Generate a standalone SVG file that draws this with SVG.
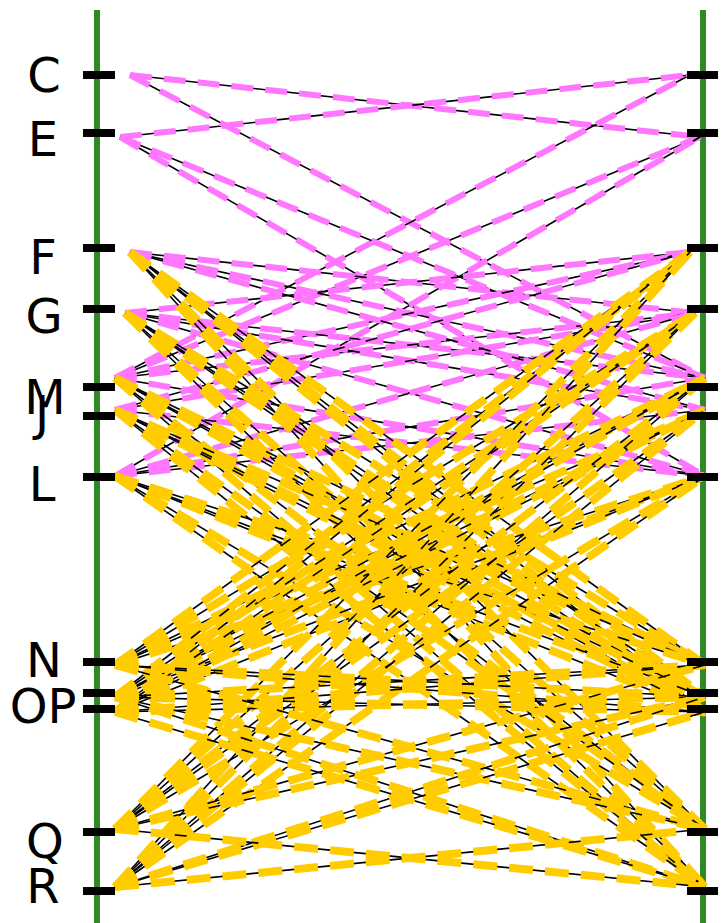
<svg xmlns="http://www.w3.org/2000/svg" width="723" height="923" viewBox="0 0 723 923">
<style>
.ax{stroke:#2e8a22;stroke-width:6;fill:none}
.tk{fill:#000}
.lb{font-family:"DejaVu Sans","Liberation Sans",sans-serif;font-size:48px;fill:#000;text-anchor:middle}
.k{stroke:#000;stroke-width:1.6;fill:none}
.p{stroke:#ff77ff;stroke-width:6;stroke-dasharray:22 12;fill:none}
.y{stroke:#ffcc00;stroke-width:8;stroke-dasharray:24 12;fill:none}
</style>
<rect width="723" height="923" fill="#fff"/>
<g id="axes">
<line class="ax" x1="97" y1="10" x2="97" y2="923"/>
<line class="ax" x1="703" y1="10" x2="703" y2="923"/>
</g>
<g id="connectors">
<line class="k" x1="130" y1="75" x2="700" y2="137"/><line class="p" x1="130" y1="75" x2="700" y2="137"/>
<line class="k" x1="120" y1="137" x2="690" y2="75"/><line class="p" x1="120" y1="137" x2="690" y2="75"/>
<line class="k" x1="130" y1="75" x2="705" y2="378"/><line class="p" x1="130" y1="75" x2="705" y2="378"/>
<line class="k" x1="115" y1="378" x2="690" y2="75"/><line class="p" x1="115" y1="378" x2="690" y2="75"/>
<line class="k" x1="120" y1="137" x2="705" y2="378"/><line class="p" x1="120" y1="137" x2="705" y2="378"/>
<line class="k" x1="115" y1="378" x2="700" y2="137"/><line class="p" x1="115" y1="378" x2="700" y2="137"/>
<line class="k" x1="120" y1="137" x2="705" y2="476"/><line class="p" x1="120" y1="137" x2="705" y2="476"/>
<line class="k" x1="115" y1="476" x2="700" y2="137"/><line class="p" x1="115" y1="476" x2="700" y2="137"/>
<line class="k" x1="130" y1="252" x2="695" y2="313"/><line class="p" x1="130" y1="252" x2="695" y2="313"/>
<line class="k" x1="125" y1="313" x2="690" y2="252"/><line class="p" x1="125" y1="313" x2="690" y2="252"/>
<line class="k" x1="130" y1="252" x2="705" y2="378"/><line class="p" x1="130" y1="252" x2="705" y2="378"/>
<line class="k" x1="115" y1="378" x2="690" y2="252"/><line class="p" x1="115" y1="378" x2="690" y2="252"/>
<line class="k" x1="125" y1="313" x2="705" y2="378"/><line class="p" x1="125" y1="313" x2="705" y2="378"/>
<line class="k" x1="115" y1="378" x2="695" y2="313"/><line class="p" x1="115" y1="378" x2="695" y2="313"/>
<line class="k" x1="125" y1="313" x2="705" y2="410"/><line class="p" x1="125" y1="313" x2="705" y2="410"/>
<line class="k" x1="115" y1="410" x2="695" y2="313"/><line class="p" x1="115" y1="410" x2="695" y2="313"/>
<line class="k" x1="125" y1="313" x2="705" y2="476"/><line class="p" x1="125" y1="313" x2="705" y2="476"/>
<line class="k" x1="115" y1="476" x2="695" y2="313"/><line class="p" x1="115" y1="476" x2="695" y2="313"/>
<line class="k" x1="115" y1="378" x2="705" y2="476"/><line class="p" x1="115" y1="378" x2="705" y2="476"/>
<line class="k" x1="115" y1="476" x2="705" y2="378"/><line class="p" x1="115" y1="476" x2="705" y2="378"/>
<line class="k" x1="115" y1="410" x2="705" y2="476"/><line class="p" x1="115" y1="410" x2="705" y2="476"/>
<line class="k" x1="115" y1="476" x2="705" y2="410"/><line class="p" x1="115" y1="476" x2="705" y2="410"/>
<line class="k" x1="130" y1="252" x2="705" y2="410"/><line class="p" x1="130" y1="252" x2="705" y2="410"/>
<line class="k" x1="115" y1="410" x2="690" y2="252"/><line class="p" x1="115" y1="410" x2="690" y2="252"/>

<line class="k" x1="130" y1="252" x2="705" y2="665"/><line class="y" x1="130" y1="252" x2="705" y2="665"/>
<line class="k" x1="130" y1="252" x2="705" y2="697"/><line class="y" x1="130" y1="252" x2="705" y2="697"/>
<line class="k" x1="130" y1="252" x2="705" y2="712"/><line class="y" x1="130" y1="252" x2="705" y2="712"/>
<line class="k" x1="130" y1="252" x2="705" y2="829"/><line class="y" x1="130" y1="252" x2="705" y2="829"/>
<line class="k" x1="130" y1="252" x2="705" y2="887"/><line class="y" x1="130" y1="252" x2="705" y2="887"/>
<line class="k" x1="125" y1="313" x2="705" y2="665"/><line class="y" x1="125" y1="313" x2="705" y2="665"/>
<line class="k" x1="125" y1="313" x2="705" y2="697"/><line class="y" x1="125" y1="313" x2="705" y2="697"/>
<line class="k" x1="125" y1="313" x2="705" y2="712"/><line class="y" x1="125" y1="313" x2="705" y2="712"/>
<line class="k" x1="125" y1="313" x2="705" y2="829"/><line class="y" x1="125" y1="313" x2="705" y2="829"/>
<line class="k" x1="125" y1="313" x2="705" y2="887"/><line class="y" x1="125" y1="313" x2="705" y2="887"/>
<line class="k" x1="115" y1="378" x2="705" y2="665"/><line class="y" x1="115" y1="378" x2="705" y2="665"/>
<line class="k" x1="115" y1="378" x2="705" y2="697"/><line class="y" x1="115" y1="378" x2="705" y2="697"/>
<line class="k" x1="115" y1="378" x2="705" y2="712"/><line class="y" x1="115" y1="378" x2="705" y2="712"/>
<line class="k" x1="115" y1="378" x2="705" y2="829"/><line class="y" x1="115" y1="378" x2="705" y2="829"/>
<line class="k" x1="115" y1="378" x2="705" y2="887"/><line class="y" x1="115" y1="378" x2="705" y2="887"/>
<line class="k" x1="115" y1="410" x2="705" y2="665"/><line class="y" x1="115" y1="410" x2="705" y2="665"/>
<line class="k" x1="115" y1="410" x2="705" y2="697"/><line class="y" x1="115" y1="410" x2="705" y2="697"/>
<line class="k" x1="115" y1="410" x2="705" y2="712"/><line class="y" x1="115" y1="410" x2="705" y2="712"/>
<line class="k" x1="115" y1="410" x2="705" y2="829"/><line class="y" x1="115" y1="410" x2="705" y2="829"/>
<line class="k" x1="115" y1="410" x2="705" y2="887"/><line class="y" x1="115" y1="410" x2="705" y2="887"/>
<line class="k" x1="115" y1="476" x2="705" y2="665"/><line class="y" x1="115" y1="476" x2="705" y2="665"/>
<line class="k" x1="115" y1="476" x2="705" y2="697"/><line class="y" x1="115" y1="476" x2="705" y2="697"/>
<line class="k" x1="115" y1="476" x2="705" y2="712"/><line class="y" x1="115" y1="476" x2="705" y2="712"/>
<line class="k" x1="115" y1="476" x2="705" y2="829"/><line class="y" x1="115" y1="476" x2="705" y2="829"/>
<line class="k" x1="115" y1="476" x2="705" y2="887"/><line class="y" x1="115" y1="476" x2="705" y2="887"/>

<line class="k" x1="115" y1="665" x2="690" y2="252"/><line class="y" x1="115" y1="665" x2="690" y2="252"/>
<line class="k" x1="115" y1="665" x2="695" y2="313"/><line class="y" x1="115" y1="665" x2="695" y2="313"/>
<line class="k" x1="115" y1="665" x2="705" y2="378"/><line class="y" x1="115" y1="665" x2="705" y2="378"/>
<line class="k" x1="115" y1="665" x2="705" y2="410"/><line class="y" x1="115" y1="665" x2="705" y2="410"/>
<line class="k" x1="115" y1="665" x2="705" y2="476"/><line class="y" x1="115" y1="665" x2="705" y2="476"/>
<line class="k" x1="115" y1="697" x2="690" y2="252"/><line class="y" x1="115" y1="697" x2="690" y2="252"/>
<line class="k" x1="115" y1="697" x2="695" y2="313"/><line class="y" x1="115" y1="697" x2="695" y2="313"/>
<line class="k" x1="115" y1="697" x2="705" y2="378"/><line class="y" x1="115" y1="697" x2="705" y2="378"/>
<line class="k" x1="115" y1="697" x2="705" y2="410"/><line class="y" x1="115" y1="697" x2="705" y2="410"/>
<line class="k" x1="115" y1="697" x2="705" y2="476"/><line class="y" x1="115" y1="697" x2="705" y2="476"/>
<line class="k" x1="115" y1="712" x2="690" y2="252"/><line class="y" x1="115" y1="712" x2="690" y2="252"/>
<line class="k" x1="115" y1="712" x2="695" y2="313"/><line class="y" x1="115" y1="712" x2="695" y2="313"/>
<line class="k" x1="115" y1="712" x2="705" y2="378"/><line class="y" x1="115" y1="712" x2="705" y2="378"/>
<line class="k" x1="115" y1="712" x2="705" y2="410"/><line class="y" x1="115" y1="712" x2="705" y2="410"/>
<line class="k" x1="115" y1="712" x2="705" y2="476"/><line class="y" x1="115" y1="712" x2="705" y2="476"/>
<line class="k" x1="115" y1="829" x2="690" y2="252"/><line class="y" x1="115" y1="829" x2="690" y2="252"/>
<line class="k" x1="115" y1="829" x2="695" y2="313"/><line class="y" x1="115" y1="829" x2="695" y2="313"/>
<line class="k" x1="115" y1="829" x2="705" y2="378"/><line class="y" x1="115" y1="829" x2="705" y2="378"/>
<line class="k" x1="115" y1="829" x2="705" y2="410"/><line class="y" x1="115" y1="829" x2="705" y2="410"/>
<line class="k" x1="115" y1="829" x2="705" y2="476"/><line class="y" x1="115" y1="829" x2="705" y2="476"/>
<line class="k" x1="115" y1="887" x2="690" y2="252"/><line class="y" x1="115" y1="887" x2="690" y2="252"/>
<line class="k" x1="115" y1="887" x2="695" y2="313"/><line class="y" x1="115" y1="887" x2="695" y2="313"/>
<line class="k" x1="115" y1="887" x2="705" y2="378"/><line class="y" x1="115" y1="887" x2="705" y2="378"/>
<line class="k" x1="115" y1="887" x2="705" y2="410"/><line class="y" x1="115" y1="887" x2="705" y2="410"/>
<line class="k" x1="115" y1="887" x2="705" y2="476"/><line class="y" x1="115" y1="887" x2="705" y2="476"/>

<line class="k" x1="115" y1="665" x2="705" y2="697"/><line class="y" x1="115" y1="665" x2="705" y2="697"/>
<line class="k" x1="115" y1="697" x2="705" y2="665"/><line class="y" x1="115" y1="697" x2="705" y2="665"/>
<line class="k" x1="115" y1="665" x2="705" y2="712"/><line class="y" x1="115" y1="665" x2="705" y2="712"/>
<line class="k" x1="115" y1="712" x2="705" y2="665"/><line class="y" x1="115" y1="712" x2="705" y2="665"/>
<line class="k" x1="115" y1="697" x2="705" y2="712"/><line class="y" x1="115" y1="697" x2="705" y2="712"/>
<line class="k" x1="115" y1="712" x2="705" y2="697"/><line class="y" x1="115" y1="712" x2="705" y2="697"/>
<line class="k" x1="115" y1="665" x2="705" y2="829"/><line class="y" x1="115" y1="665" x2="705" y2="829"/>
<line class="k" x1="115" y1="829" x2="705" y2="665"/><line class="y" x1="115" y1="829" x2="705" y2="665"/>
<line class="k" x1="115" y1="697" x2="705" y2="829"/><line class="y" x1="115" y1="697" x2="705" y2="829"/>
<line class="k" x1="115" y1="829" x2="705" y2="697"/><line class="y" x1="115" y1="829" x2="705" y2="697"/>
<line class="k" x1="115" y1="697" x2="705" y2="887"/><line class="y" x1="115" y1="697" x2="705" y2="887"/>
<line class="k" x1="115" y1="887" x2="705" y2="697"/><line class="y" x1="115" y1="887" x2="705" y2="697"/>
<line class="k" x1="115" y1="712" x2="705" y2="887"/><line class="y" x1="115" y1="712" x2="705" y2="887"/>
<line class="k" x1="115" y1="887" x2="705" y2="712"/><line class="y" x1="115" y1="887" x2="705" y2="712"/>
<line class="k" x1="115" y1="829" x2="705" y2="887"/><line class="y" x1="115" y1="829" x2="705" y2="887"/>
<line class="k" x1="115" y1="887" x2="705" y2="829"/><line class="y" x1="115" y1="887" x2="705" y2="829"/>
</g>
<g id="node-C"><rect class="tk" x="83" y="71" width="32" height="8"/><rect class="tk" x="687" y="71" width="31" height="8"/><text class="lb" x="44" y="92">C</text></g>
<g id="node-E"><rect class="tk" x="83" y="129" width="32" height="8"/><rect class="tk" x="687" y="129" width="31" height="8"/><text class="lb" x="43" y="156">E</text></g>
<g id="node-F"><rect class="tk" x="83" y="244" width="32" height="8"/><rect class="tk" x="687" y="244" width="31" height="8"/><text class="lb" x="43" y="274">F</text></g>
<g id="node-G"><rect class="tk" x="83" y="305" width="32" height="8"/><rect class="tk" x="687" y="305" width="31" height="8"/><text class="lb" x="44" y="333">G</text></g>
<g id="node-M"><rect class="tk" x="83" y="383" width="32" height="8"/><rect class="tk" x="687" y="383" width="31" height="8"/><text class="lb" x="45" y="414">M</text></g>
<g id="node-J"><rect class="tk" x="83" y="412" width="32" height="8"/><rect class="tk" x="687" y="412" width="31" height="8"/><text class="lb" x="42" y="430">J</text></g>
<g id="node-L"><rect class="tk" x="83" y="473" width="32" height="8"/><rect class="tk" x="687" y="473" width="31" height="8"/><text class="lb" x="42" y="501">L</text></g>
<g id="node-N"><rect class="tk" x="83" y="658" width="32" height="8"/><rect class="tk" x="687" y="658" width="31" height="8"/><text class="lb" x="44" y="677">N</text></g>
<g id="node-O"><rect class="tk" x="83" y="689" width="32" height="8"/><rect class="tk" x="687" y="689" width="31" height="8"/></g>
<g id="node-P"><rect class="tk" x="83" y="705" width="32" height="8"/><rect class="tk" x="687" y="705" width="31" height="8"/></g>
<text class="lb" x="43" y="723">OP</text>
<g id="node-Q"><rect class="tk" x="83" y="828" width="32" height="8"/><rect class="tk" x="687" y="828" width="31" height="8"/><text class="lb" x="45" y="858">Q</text></g>
<g id="node-R"><rect class="tk" x="83" y="887" width="32" height="8"/><rect class="tk" x="687" y="887" width="31" height="8"/><text class="lb" x="43" y="903">R</text></g>
</svg>
